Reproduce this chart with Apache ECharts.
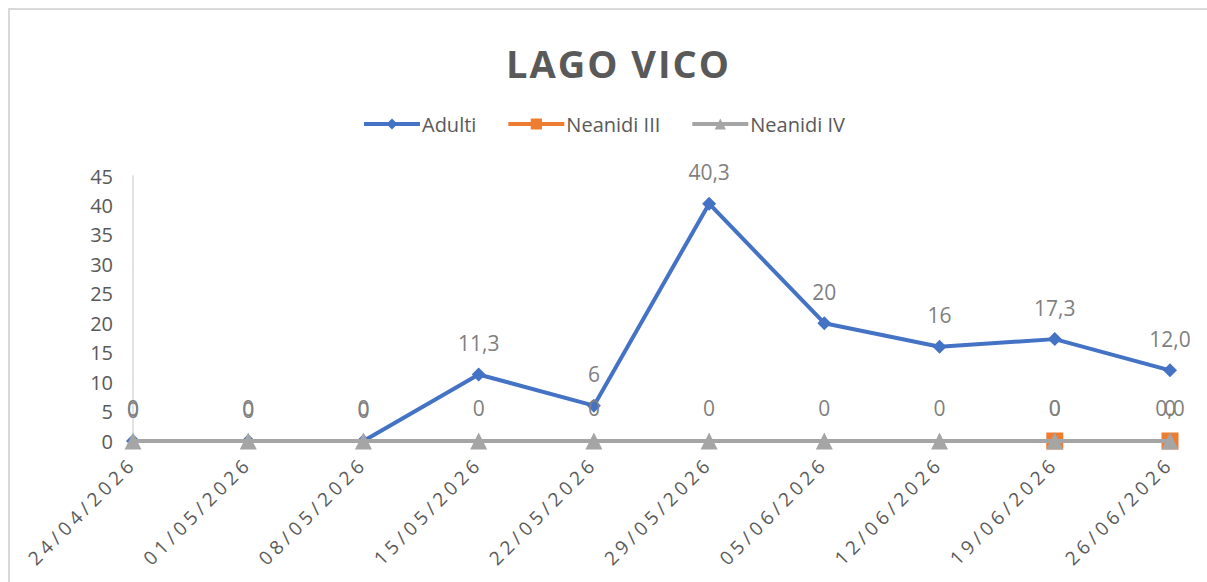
<!DOCTYPE html>
<html>
<head>
<meta charset="utf-8">
<script src="https://cdn.jsdelivr.net/npm/echarts@6/dist/echarts.min.js"></script>
<style>html,body{margin:0;padding:0;background:#fff;}#c{width:1207px;height:582px;}</style>
</head>
<body>
<div id="c"></div>
<script>
const categories = ['24/04/2026','01/05/2026','08/05/2026','15/05/2026','22/05/2026','29/05/2026','05/06/2026','12/06/2026','19/06/2026','26/06/2026'];
const adulti = [0, 0, 0, 11.3, 6, 40.3, 20, 16, 17.3, 12.0];
const adultiLabels = ['0','0','0','11,3','6','40,3','20','16','17,3','12,0'];
const neanidiIII = [null, null, null, null, null, null, null, null, 0, 0];
const neanidiIIILabels = ['', '', '', '', '', '', '', '', '0', '0,0'];
const neanidiIV = [0, 0, 0, 0, 0, 0, 0, 0, 0, 0];
const neanidiIVLabels = ['0','0','0','0','0','0','0','0','0','0'];
const yTicks = {min: 0, max: 45, interval: 5};

const chart = echarts.init(document.getElementById('c'), null, {renderer: 'svg'});
const font = '"Open Sans", "Liberation Sans", sans-serif';
function lab(arr) {
  return {show: true, position: 'top', distance: 14, color: '#7f7f7f', fontSize: 21, fontFamily: font,
    formatter: p => arr[p.dataIndex]};
}
chart.setOption({
  animation: false,
  backgroundColor: '#fff',
  graphic: [{type: 'rect', shape: {x: 9, y: 9, width: 1210, height: 590}, style: {fill: 'none', stroke: '#d9d9d9', lineWidth: 2}, z: -1}],
  title: {text: 'LAGO VICO', left: 501, top: 39,
    textStyle: {fontFamily: font, fontWeight: 'bold', fontSize: 38, color: '#595959'}},
  legend: {top: 109, left: 'center', itemWidth: 56, itemHeight: 14, itemGap: 30,
    lineStyle: {width: 4},
    textStyle: {fontFamily: font, fontSize: 20, color: '#595959', padding: [0, 0, 0, -3]},
    data: ['Adulti', 'Neanidi III', 'Neanidi IV']},
  grid: {left: 133, right: 37, top: 176, bottom: 141, containLabel: false},
  xAxis: {type: 'category', data: categories, boundaryGap: false,
    axisLine: {lineStyle: {color: '#d9d9d9', width: 1.5}},
    axisTick: {show: false},
    axisLabel: {rotate: 45, margin: 19, color: '#595959', fontSize: 19, fontFamily: font, interval: 0}},
  yAxis: {type: 'value', min: yTicks.min, max: yTicks.max, interval: yTicks.interval,
    axisLine: {show: true, lineStyle: {color: '#d9d9d9', width: 1.5}},
    axisTick: {show: false},
    splitLine: {show: false},
    axisLabel: {margin: 20, color: '#595959', fontSize: 20, fontFamily: font}},
  series: [
    {name: 'Adulti', type: 'line', data: adulti, symbol: 'diamond', symbolSize: 14,
      lineStyle: {color: '#4472C4', width: 4}, itemStyle: {color: '#4472C4'}, label: lab(adultiLabels), z: 3},
    {name: 'Neanidi III', type: 'line', data: neanidiIII, symbol: 'rect', symbolSize: 17,
      lineStyle: {color: '#ED7D31', width: 4}, itemStyle: {color: '#ED7D31'}, label: lab(neanidiIIILabels), z: 4},
    {name: 'Neanidi IV', type: 'line', data: neanidiIV, symbol: 'triangle', symbolSize: 17,
      lineStyle: {color: '#A5A5A5', width: 4}, itemStyle: {color: '#A5A5A5'}, label: lab(neanidiIVLabels), z: 5}
  ]
});
function applySpacing() {
  document.querySelectorAll('#c svg text').forEach(t => {
    const s = t.textContent;
    if (/^\d\d\/\d\d\/\d{4}$/.test(s)) t.setAttribute('letter-spacing', '4.3');
    else if (s === 'LAGO VICO') t.setAttribute('letter-spacing', '2');
  });
}
chart.on('finished', applySpacing);
applySpacing();
setTimeout(applySpacing, 50);
</script>
</body>
</html>
